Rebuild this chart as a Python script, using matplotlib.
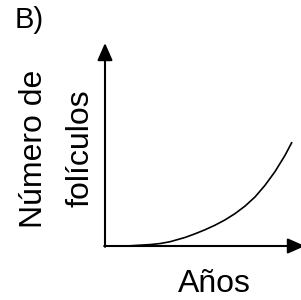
import matplotlib
matplotlib.use("Agg")
import matplotlib.pyplot as plt

plt.rcParams["font.family"] = ["Liberation Sans", "DejaVu Sans"]

W, H = 301, 300

# curve (axis units: 0..1 on both axes)
years     = [0.0, 0.05, 0.125, 0.225, 0.275, 0.325, 0.40, 0.45, 0.50, 0.55,
             0.60, 0.65, 0.70, 0.75, 0.80, 0.85, 0.90, 0.935]
follicles = [0.0, 0.0, 0.001, 0.007, 0.012, 0.021, 0.042, 0.060, 0.080, 0.1025,
             0.1285, 0.1595, 0.1965, 0.2415, 0.299, 0.3665, 0.4465, 0.512]

PANEL   = "B)"
Y_LABEL = ["Número de", "folículos"]
X_LABEL = "Años"


def px(x, y):
    return x / W, 1 - y / H


fig = plt.figure(figsize=(W / 100, H / 100), dpi=100)
ax = fig.add_axes([105 / W, (H - 246) / H, 200 / W, 203 / H])
ax.set_xlim(0, 1)
ax.set_ylim(0, 1)
ax.axis("off")

arrow = dict(arrowstyle="-|>,head_length=0.75,head_width=0.33", lw=1.5,
             color="black", shrinkA=0, shrinkB=0, mutation_scale=14)
ax.annotate("", xy=(1.0, 0), xytext=(-0.004, 0), xycoords="axes fraction",
            arrowprops=arrow, annotation_clip=False)
ax.annotate("", xy=(0, 1.0), xytext=(0, -0.004), xycoords="axes fraction",
            arrowprops=arrow, annotation_clip=False)

ax.plot(years, follicles, color="black", lw=1.2, clip_on=False,
        solid_capstyle="butt", solid_joinstyle="round")

fig.text(*px(15, 28), PANEL, fontsize=21, ha="left", va="baseline")
fig.text(*px(42, 148.5), Y_LABEL[0], fontsize=23, rotation=90,
         rotation_mode="anchor", ha="center", va="baseline")
fig.text(*px(88, 148), Y_LABEL[1], fontsize=23, rotation=90,
         rotation_mode="anchor", ha="center", va="baseline")
fig.text(*px(214, 292), X_LABEL, fontsize=23, ha="center", va="baseline")

fig.savefig("out.png", dpi=100)
